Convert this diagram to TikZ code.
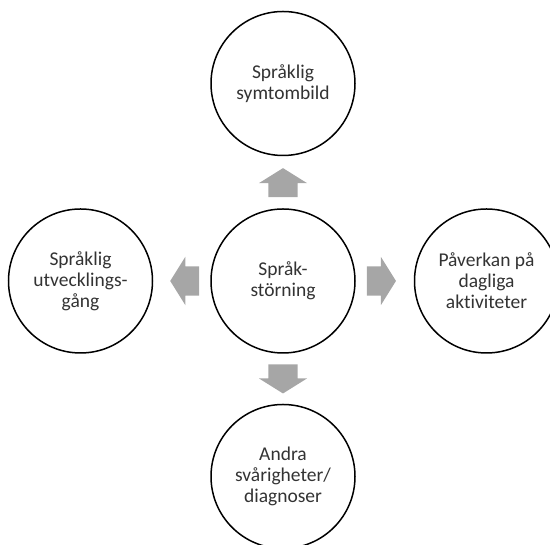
\documentclass[tikz,border=0pt]{standalone}
\usepackage{fontspec}
\setmainfont{Carlito}[Ligatures = NoCommon]
\usetikzlibrary{positioning,shapes.arrows}

\begin{document}
\begin{tikzpicture}[x = 1pt, y = 1pt,
  bubble/.style = {circle, draw, line width = 1.5pt, fill = white,
    minimum size = 144pt, inner sep = 0pt, align = center,
    text = black!80, font = \fontsize{19.5}{21}\selectfont},
  pil/.style = {single arrow, fill = black!35, draw = none,
    inner xsep = 0pt, inner ysep = 14.5pt, minimum height = 29pt,
    single arrow head extend = 9.5pt, single arrow tip angle = 116}]
  \useasboundingbox (0,0) rectangle (550,545);

  \node[bubble] (core) at (283,264) {Språk-\\störning};
  \node[bubble, above = 52pt of core] (symtom) {Språklig\\symtombild};
  \node[bubble, below = 50pt of core] (andra) {Andra\\svårigheter/\\diagnoser};
  \node[bubble, left = 57pt of core] (utveckling) {Språklig\\utvecklings-\\gång};
  \node[bubble, right = 58pt of core] (paverkan) {Påverkan på\\dagliga\\aktiviteter};

  \path (core) -- node[pil, pos = 0.21, anchor = tail, rotate = 90] (pilupp) {} (symtom);
  \path (core) -- node[pil, pos = 0.21, anchor = tail, rotate = -90] (pilner) {} (andra);
  \path (core) -- node[pil, pos = 0.19, anchor = tail, rotate = 180] (pilvanster) {} (utveckling);
  \path (core) -- node[pil, pos = 0.19, anchor = tail] (pilhoger) {} (paverkan);
\end{tikzpicture}
\end{document}
